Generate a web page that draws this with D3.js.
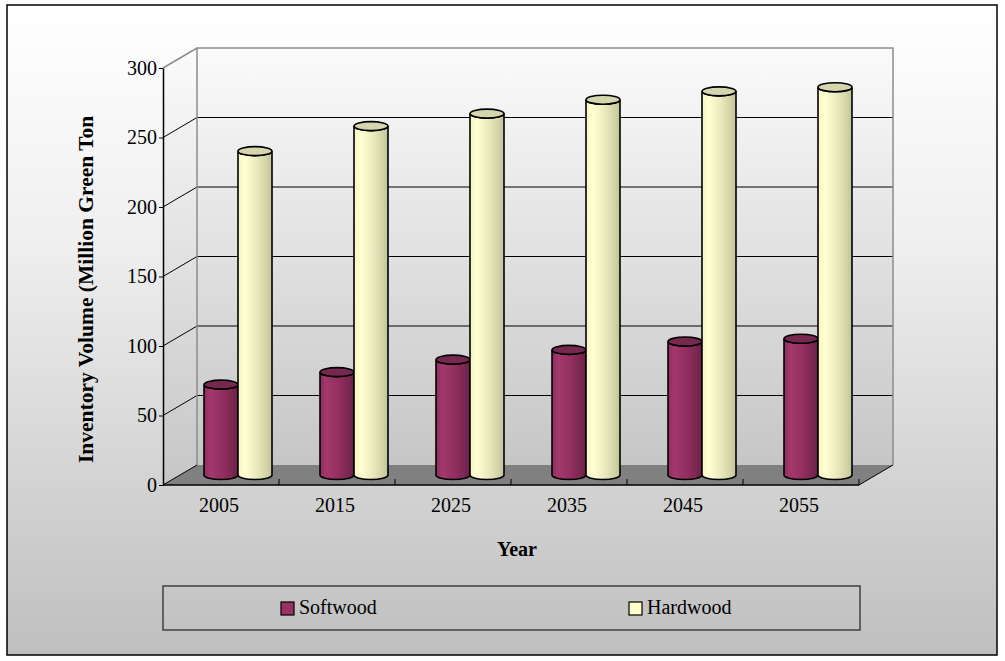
<!DOCTYPE html>
<html>
<head>
<meta charset="utf-8">
<script src="https://cdn.jsdelivr.net/npm/d3@7"></script>
<style>
  html, body { margin: 0; padding: 0; background: #ffffff; }
  svg { display: block; }
  svg text { font-family: "Liberation Serif", "Times New Roman", Times, serif !important; fill: #000; }
</style>
</head>
<body>
<svg id="chart" width="1005" height="661"></svg>
<script>
// ---- data ----
const categories = ["2005", "2015", "2025", "2035", "2045", "2055"];
const seriesNames = ["Softwood", "Hardwood"];
const softwood = [65, 74, 83, 90, 96, 98];
const hardwood = [233, 251, 260, 270, 276, 279];
const yTicks = [0, 50, 100, 150, 200, 250, 300];
const yTitle = "Inventory Volume (Million Green Ton";
const xTitle = "Year";

const seriesValues = { Softwood: softwood, Hardwood: hardwood };

// ---- layout ----
const svg = d3.select("#chart");
const DX = 34, DY = -20; // depth offset of back wall
const SERIF = '"Liberation Serif", "Times New Roman", Times, serif';

const x = d3.scaleBand().domain(categories).range([163, 859]);
const xs = d3.scaleBand().domain(seriesNames).range([24, 92]);
const y = d3.scaleLinear().domain([0, 300]).range([485, 68]);

const defs = svg.append("defs");
function linGrad(id, x1, y1, x2, y2, stops) {
  const g = defs.append("linearGradient").attr("id", id)
    .attr("x1", x1).attr("y1", y1).attr("x2", x2).attr("y2", y2);
  stops.forEach(s => g.append("stop").attr("offset", s[0]).attr("stop-color", s[1]));
}
linGrad("bgGrad", 0, 0, 0, 1, [[0, "#ffffff"], [0.35, "#f0f0f0"], [1, "#bfbfbf"]]);
linGrad("wallGrad", 0, 0, 0, 1, [[0, "#fbfbfb"], [1, "#c6c6c6"]]);
linGrad("softGrad", 0, 0, 1, 0, [[0, "#8f2c5d"], [0.18, "#a3386d"], [0.55, "#922f60"], [0.85, "#7a2650"], [1, "#6a1f45"]]);
linGrad("hardGrad", 0, 0, 1, 0, [[0, "#f6f6c6"], [0.2, "#ffffd2"], [0.55, "#eaeabe"], [0.85, "#d2d2a8"], [1, "#c2c29a"]]);
const topFill = { Softwood: "#76284f", Hardwood: "#d6d6ae" };
const bodyFill = { Softwood: "url(#softGrad)", Hardwood: "url(#hardGrad)" };

// background
svg.append("rect").attr("x", 7).attr("y", 5).attr("width", 990).attr("height", 650)
  .attr("fill", "url(#bgGrad)").attr("stroke", "#000").attr("stroke-width", 1.5);

const x0 = x.range()[0], x1 = x.range()[1];
const yTop = y(300), yBot = y(0);
const pts = a => a.map(p => p.join(",")).join(" ");

// walls
const g = svg.append("g");
g.append("polygon")
  .attr("points", pts([[x0, yBot], [x0, yTop], [x0 + DX, yTop + DY], [x0 + DX, yBot + DY]]))
  .attr("fill", "url(#wallGrad)");
g.append("polygon")
  .attr("points", pts([[x0 + DX, yTop + DY], [x1 + DX, yTop + DY], [x1 + DX, yBot + DY], [x0 + DX, yBot + DY]]))
  .attr("fill", "url(#wallGrad)");

// gridlines
yTicks.filter(v => v > 0 && v < 300).forEach(v => {
  g.append("path")
    .attr("d", `M${x0},${y(v)} L${x0 + DX},${y(v) + DY} L${x1 + DX},${y(v) + DY}`)
    .attr("fill", "none").attr("stroke", "#000").attr("stroke-width", 1);
});
// wall borders (gray)
g.append("path")
  .attr("d", `M${x0},${yTop} L${x0 + DX},${yTop + DY} L${x1 + DX},${yTop + DY} L${x1 + DX},${yBot + DY} M${x0 + DX},${yTop + DY} L${x0 + DX},${yBot + DY}`)
  .attr("fill", "none").attr("stroke", "#8c8c8c").attr("stroke-width", 1.5);

// floor
g.append("polygon")
  .attr("points", pts([[x0, yBot], [x1, yBot], [x1 + DX, yBot + DY], [x0 + DX, yBot + DY]]))
  .attr("fill", "#808080");
g.append("path")
  .attr("d", `M${x0},${yBot} L${x0 + DX},${yBot + DY} M${x1},${yBot} L${x1 + DX},${yBot + DY}`)
  .attr("fill", "none").attr("stroke", "#000").attr("stroke-width", 1);
g.append("line").attr("x1", x0).attr("x2", x1).attr("y1", yBot).attr("y2", yBot)
  .attr("stroke", "#000").attr("stroke-width", 1.5);

// category ticks
categories.forEach(c => {
  const xt = x(c) + x.bandwidth();
  g.append("line").attr("x1", xt).attr("x2", xt).attr("y1", yBot - 6).attr("y2", yBot)
    .attr("stroke", "#000").attr("stroke-width", 1);
});

// y axis
const yAxis = d3.axisLeft(y).tickValues(yTicks).tickSize(4).tickSizeOuter(0).tickPadding(2);
const ya = svg.append("g").attr("transform", `translate(${x0},0)`).call(yAxis)
  .attr("font-family", SERIF).attr("font-size", 20);
ya.select(".domain").attr("stroke", "#000").attr("stroke-width", 1.5);
ya.selectAll(".tick line").attr("stroke", "#000");
ya.selectAll(".tick text").style("font-family", SERIF).style("font-size", "20px").attr("fill", "#000");

// category labels
svg.append("g").selectAll("text").data(categories).join("text")
  .attr("x", d => x(d) + x.bandwidth() / 2 - 2)
  .attr("y", 512)
  .attr("text-anchor", "middle")
  .style("font-family", SERIF)
  .style("font-size", "20px")
  .text(d => d);

// cylinders
const cyl = svg.append("g");
categories.forEach((c, i) => {
  seriesNames.forEach(s => {
    const v = seriesValues[s][i];
    const w = xs.bandwidth();
    const l = x(c) + xs(s) + DX / 2;
    const r = l + w;
    const rx = w / 2, ry = 4.5;
    const t = y(v) + DY / 2;
    const b = y(0) + DY / 2;
    cyl.append("path")
      .attr("d", `M${l},${t} L${l},${b} A${rx},${ry} 0 0 0 ${r},${b} L${r},${t} A${rx},${ry} 0 0 1 ${l},${t} Z`)
      .attr("fill", bodyFill[s]).attr("stroke", "#000").attr("stroke-width", 1.6);
    cyl.append("ellipse")
      .attr("cx", l + rx).attr("cy", t).attr("rx", rx).attr("ry", ry)
      .attr("fill", topFill[s]).attr("stroke", "#000").attr("stroke-width", 1.6);
  });
});

// axis titles
svg.append("text")
  .attr("transform", `translate(93,463) rotate(-90)`)
  .attr("text-anchor", "start")
  .style("font-family", SERIF)
  .style("font-size", "21.5px").style("font-weight", "bold")
  .text(yTitle);
svg.append("text")
  .attr("x", 517).attr("y", 556)
  .attr("text-anchor", "middle")
  .style("font-family", SERIF)
  .style("font-size", "20px").style("font-weight", "bold")
  .text(xTitle);

// legend
const lg = svg.append("g");
lg.append("rect").attr("x", 163).attr("y", 586).attr("width", 697).attr("height", 44)
  .attr("fill", "none").attr("stroke", "#404040").attr("stroke-width", 1.5);
const legendX = [281, 629];
const legendFill = { Softwood: "#993366", Hardwood: "#ffffcc" };
seriesNames.forEach((s, i) => {
  lg.append("rect").attr("x", legendX[i]).attr("y", 602).attr("width", 13).attr("height", 13)
    .attr("fill", legendFill[s]).attr("stroke", "#000").attr("stroke-width", 1.2);
  lg.append("text").attr("x", legendX[i] + 18).attr("y", 614)
    .style("font-family", SERIF)
    .style("font-size", "20px").text(s);
});
</script>
</body>
</html>
